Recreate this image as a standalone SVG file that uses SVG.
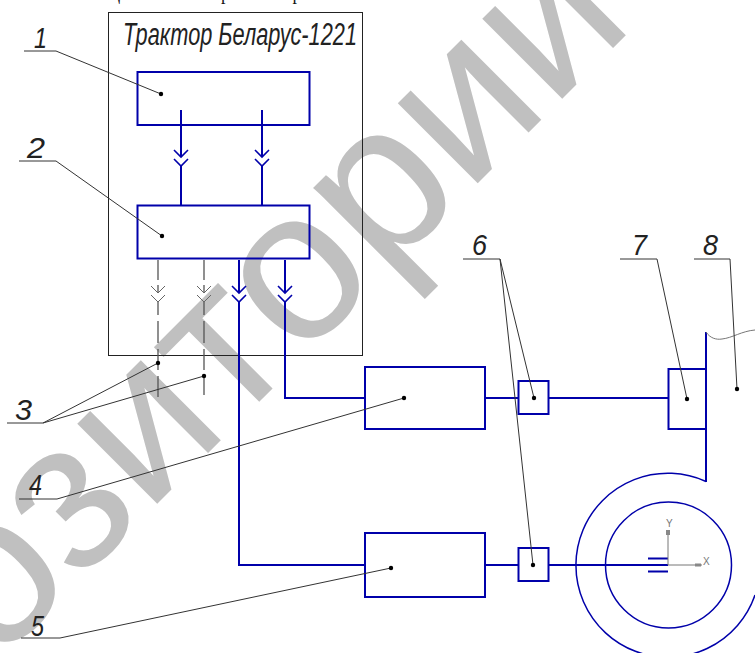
<svg xmlns="http://www.w3.org/2000/svg" width="755" height="653" viewBox="0 0 755 653">
<style>
.wm{font-family:"Liberation Sans",Arial,sans-serif;font-size:214px;fill:#c0c0c0}
.b{fill:none;stroke:#0000aa;stroke-width:2}
.t{fill:none;stroke:#0000aa;stroke-width:1.5}
.f{fill:none;stroke:#222;stroke-width:1}
.l{fill:none;stroke:#333;stroke-width:1}
.d{fill:none;stroke:#555;stroke-width:1.3}
.g{fill:none;stroke:#777;stroke-width:1}
.n{font-family:"Liberation Sans",Arial,sans-serif;font-style:italic;font-size:30px;fill:#222}
.s{font-family:"Liberation Sans",Arial,sans-serif;font-size:10px;fill:#777}
.top{font-family:"Liberation Serif",serif;font-size:18px;fill:#111}
.ti{font-family:"Liberation Sans",Arial,sans-serif;font-style:italic;font-size:31px;fill:#222}
</style>
<defs>
<circle id="p" r="2.2" fill="#000"/>
<path id="ab" d="M-7,-7 L0,0 L7,-7 M-7,2 L0,9 L7,2" fill="none" stroke="#0000aa" stroke-width="1.6"/>
<path id="ag" d="M-7,-7 L0,0 L7,-7 M-7,2 L0,9 L7,2" fill="none" stroke="#666" stroke-width="1"/>
</defs>
<text class="wm" transform="translate(-5,666) rotate(-45)">озитории</text>
<text class="top" x="30" y="0" textLength="285">схема цепей параметра</text>
<g id="frame"><rect class="f" x="108.500" y="12.500" width="254" height="343"/>
<text class="ti" x="123" y="45" textLength="234" lengthAdjust="spacingAndGlyphs">Трактор Беларус-1221</text></g>
<g id="connectors">
<path class="b" d="M181,110V157M181,166V205M262,110V157M262,166V205M239,260V293M239,302V565H365M285,260V293M285,302V398H365M485,398H518M549,398H668M485,565H518M549,565H668"/>
<path class="d" d="M158,260V280M158,285V293M158,302V315M158,321V343M158,349V370M158,376V397M204,260V280M204,285V293M204,302V315M204,321V343M204,349V370M204,376V395"/>
<path class="b" d="M706,332V482"/>
<path class="g" d="M706,332C710,338 716,340 722,339C732,338 742,331 755,330"/>
<use href="#ab" x="181" y="157"/><use href="#ab" x="262" y="157"/>
<use href="#ab" x="239" y="293"/><use href="#ab" x="285" y="293"/>
<use href="#ag" x="158" y="293"/><use href="#ag" x="204" y="293"/>
<path class="t" d="M706,481.500A92,92 0 1 0 755,595"/>
<path class="b" d="M648,558.500H668M648,571.500H668"/>
<path class="g" d="M668,565V530M668,565H702"/>
<path d="M666,535h4v-5h-4zM695,563.500h6v3h-6z" fill="#888"/>
</g>
<g id="node-1"><rect class="b" x="137.500" y="72" width="172" height="53"/></g>
<g id="node-2"><rect class="b" x="137.500" y="205.500" width="172" height="53"/></g>
<g id="node-4"><rect class="b" x="365" y="367" width="120" height="62"/></g>
<g id="node-5"><rect class="b" x="365" y="533" width="120" height="64"/></g>
<g id="node-6a"><rect class="b" x="518.500" y="381" width="30" height="33"/></g>
<g id="node-6b"><rect class="b" x="518.500" y="548" width="30" height="33"/></g>
<g id="node-7"><rect class="b" x="668.500" y="369" width="37.500" height="60"/></g>
<g id="node-wheel"><circle class="t" cx="668.500" cy="565" r="63"/>
<text class="s" x="666" y="527">Y</text><text class="s" x="703" y="565">X</text></g>
<g id="leaders">
<path class="l" d="M24,51H56L161,94"/><use href="#p" x="161" y="94"/>
<path class="l" d="M19,161H56L162,236"/><use href="#p" x="162" y="236"/>
<path class="l" d="M7,423H43L158,363M43,423L204,376"/><use href="#p" x="158" y="363"/><use href="#p" x="204" y="376"/>
<path class="l" d="M19,499H57L404,398"/><use href="#p" x="404" y="398"/>
<path class="l" d="M21,638H60L391,568"/><use href="#p" x="391" y="568"/>
<path class="l" d="M463,259H500L534,398M500,259L533,565"/><use href="#p" x="534" y="398"/><use href="#p" x="533" y="565"/>
<path class="l" d="M620,259H657L687,399"/><use href="#p" x="687" y="399"/>
<path class="l" d="M694,259H730L737,389"/><use href="#p" x="737" y="389"/>
</g>
<g id="labels">
<text class="n" x="34" y="48" textLength="13" lengthAdjust="spacingAndGlyphs">1</text>
<text class="n" x="27" y="158" textLength="18" lengthAdjust="spacingAndGlyphs">2</text>
<text class="n" x="15" y="420" textLength="17" lengthAdjust="spacingAndGlyphs">3</text>
<text class="n" x="29" y="495" textLength="13" lengthAdjust="spacingAndGlyphs">4</text>
<text class="n" x="31" y="636" textLength="13" lengthAdjust="spacingAndGlyphs">5</text>
<text class="n" x="472" y="255" textLength="15" lengthAdjust="spacingAndGlyphs">6</text>
<text class="n" x="632" y="255" textLength="15" lengthAdjust="spacingAndGlyphs">7</text>
<text class="n" x="703" y="255" textLength="15" lengthAdjust="spacingAndGlyphs">8</text>
</g>
</svg>
